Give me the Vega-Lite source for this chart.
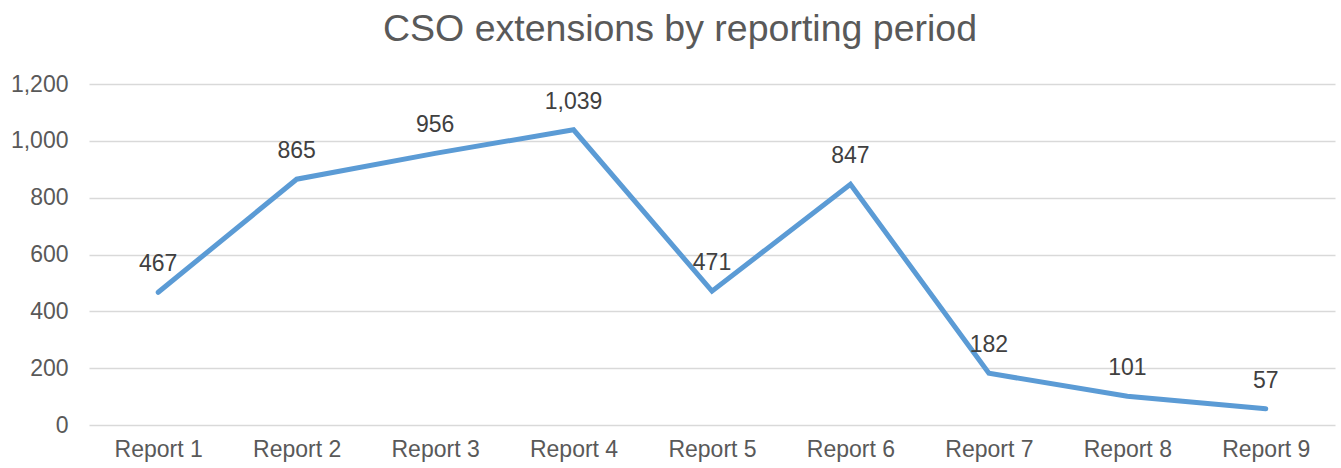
{
  "$schema": "https://vega.github.io/schema/vega-lite/v6.json",
  "autosize": {"type": "none"},
  "padding": {"left": 89, "top": 84, "right": 6, "bottom": 43},
  "width": 1246,
  "height": 341,
  "background": "white",
  "title": {
    "text": "CSO extensions by reporting period",
    "font": "Liberation Sans",
    "fontSize": 37.5,
    "fontWeight": "normal",
    "color": "#595959",
    "anchor": "middle",
    "baseline": "alphabetic",
    "dx": -32,
    "dy": 5,
    "offset": 0
  },
  "data": {
    "values": [
      {"report": "Report 1", "value": 467},
      {"report": "Report 2", "value": 865},
      {"report": "Report 3", "value": 956},
      {"report": "Report 4", "value": 1039},
      {"report": "Report 5", "value": 471},
      {"report": "Report 6", "value": 847},
      {"report": "Report 7", "value": 182},
      {"report": "Report 8", "value": 101},
      {"report": "Report 9", "value": 57}
    ]
  },
  "encoding": {
    "x": {
      "field": "report",
      "type": "nominal",
      "sort": null,
      "scale": {"paddingInner": 0, "paddingOuter": 0.5},
      "axis": {
        "title": null,
        "labelAngle": 0,
        "labelFont": "Liberation Sans",
        "labelFontSize": 23,
        "labelColor": "#595959",
        "labelPadding": 13,
        "domain": false,
        "ticks": false,
        "grid": false
      }
    },
    "y": {
      "field": "value",
      "type": "quantitative",
      "scale": {"domain": [0, 1200], "nice": false},
      "axis": {
        "title": null,
        "values": [0, 200, 400, 600, 800, 1000, 1200],
        "format": ",d",
        "labelFont": "Liberation Sans",
        "labelFontSize": 23,
        "labelColor": "#595959",
        "labelPadding": 21,
        "domain": false,
        "ticks": false,
        "grid": true,
        "gridColor": "#D9D9D9",
        "gridWidth": 1.5
      }
    }
  },
  "layer": [
    {
      "mark": {"type": "line", "color": "#5B9BD5", "strokeWidth": 5, "strokeCap": "round", "strokeJoin": "miter"}
    },
    {
      "mark": {
        "type": "text",
        "font": "Liberation Sans",
        "fontSize": 23,
        "color": "#404040",
        "baseline": "alphabetic",
        "dy": -21
      },
      "encoding": {
        "text": {"field": "value", "type": "quantitative", "format": ",d"}
      }
    }
  ],
  "config": {"view": {"stroke": null}}
}
